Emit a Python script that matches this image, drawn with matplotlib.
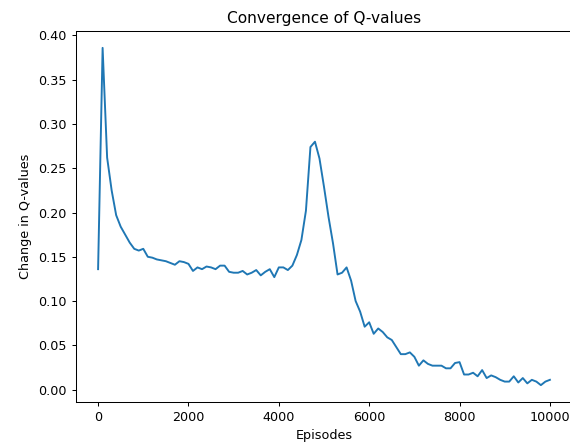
"""Recreate the Q-value convergence line chart."""

import matplotlib

matplotlib.use("Agg")
import matplotlib.pyplot as plt
import numpy as np

# Episodes logged every 100 steps
episodes = np.arange(0, 10001, 100)

# Mean absolute change in Q-values
q_change = [
    0.136, 0.386, 0.262, 0.225, 0.197, 0.184, 0.175, 0.166, 0.159, 0.157,
    0.159, 0.150, 0.149, 0.147, 0.146, 0.145, 0.143, 0.141, 0.145, 0.144,
    0.142, 0.134, 0.138, 0.136, 0.139, 0.138, 0.136, 0.140, 0.140, 0.133,
    0.132, 0.132, 0.134, 0.130, 0.132, 0.135, 0.129, 0.133, 0.136, 0.127,
    0.138, 0.138, 0.135, 0.140, 0.152, 0.169, 0.202, 0.274, 0.280, 0.261,
    0.229, 0.195, 0.165, 0.130, 0.132, 0.138, 0.123, 0.100, 0.088, 0.071,
    0.076, 0.063, 0.069, 0.065, 0.059, 0.056, 0.048, 0.040, 0.040, 0.042,
    0.037, 0.027, 0.033, 0.029, 0.027, 0.027, 0.027, 0.024, 0.024, 0.030,
    0.031, 0.017, 0.017, 0.019, 0.015, 0.022, 0.013, 0.016, 0.014, 0.011,
    0.009, 0.009, 0.015, 0.008, 0.013, 0.007, 0.011, 0.009, 0.005, 0.009,
    0.011,
]

scale = 0.92
fig = plt.figure(figsize=(5.7, 4.48), dpi=100)
# the reference is a screenshot cropped just before the right spine
ax = fig.add_axes([75.5 / 570, 1 - 402 / 448, 497 / 570, 371 / 448])

ax.plot(episodes, q_change, color="#1f77b4", linewidth=1.5 * scale)

ax.set_title("Convergence of Q-values", fontsize=12 * scale, pad=6 * scale)
ax.set_xlabel("Episodes", fontsize=10 * scale, labelpad=3)
ax.set_ylabel("Change in Q-values", fontsize=10 * scale, labelpad=4)
ax.tick_params(labelsize=10 * scale, length=3.5 * scale, width=0.8 * scale)
for spine in ax.spines.values():
    spine.set_linewidth(0.8 * scale)
ax.spines["right"].set_visible(False)

ax.set_xticks([0, 2000, 4000, 6000, 8000, 10000])
ax.set_yticks(np.arange(0, 0.41, 0.05))

fig.savefig("out.png", dpi=100)
plt.close(fig)
